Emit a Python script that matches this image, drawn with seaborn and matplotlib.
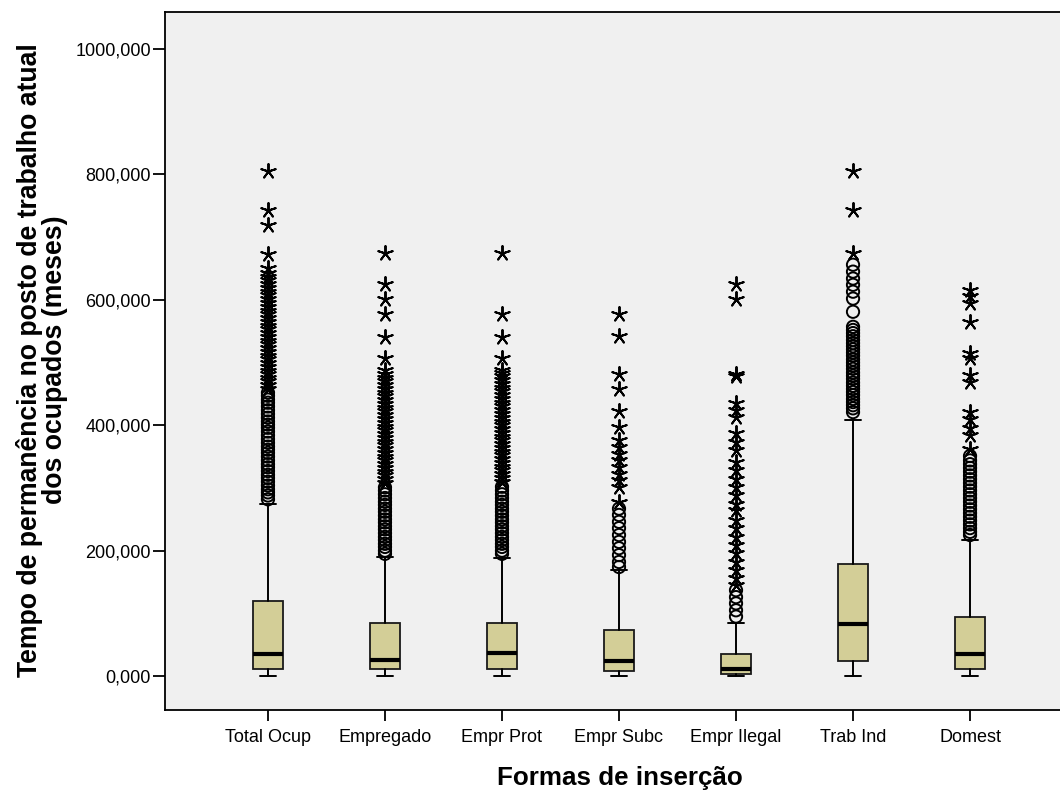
import matplotlib
matplotlib.use("Agg")
import matplotlib.pyplot as plt
import pandas as pd
import seaborn as sns

# ---- data (meses) ----
categories = ["Total Ocup", "Empregado", "Empr Prot", "Empr Subc",
              "Empr Ilegal", "Trab Ind", "Domest"]
q1 = [11, 11, 12, 8.5, 4, 23.5, 10.6]
medians = [36, 25, 37, 24, 12, 83, 35]
q3 = [120, 84, 85, 73, 36, 179, 95]
whisker_low = [0, 0, 0, 0, 0, 0, 0]
whisker_high = [275, 190, 188, 169, 85, 408, 217]

# casos atípicos (círculos) e extremos (estrelas) por forma de inserção
mild_total_ocup = [282, 288, 293, 298, 304, 310, 316, 321, 327, 333, 338, 344,
                   350, 356, 361, 366, 372, 378, 384, 390, 396, 401, 406, 412,
                   418, 424, 430, 436, 441, 447, 452]
extreme_total_ocup = [458, 464, 470, 476, 481, 487, 493, 499, 505, 511, 517,
                      523, 529, 535, 541, 547, 553, 559, 565, 571, 577, 583,
                      589, 595, 601, 607, 613, 619, 625, 631, 637, 643, 650,
                      673, 720, 744, 805]

mild_empregado = [195, 200, 206, 211, 217, 222, 228, 234, 239, 245, 250, 256,
                  262, 267, 273, 278, 284, 290, 296, 301]
extreme_empregado = [308, 314, 320, 326, 332, 338, 344, 350, 356, 362, 368,
                     374, 380, 386, 392, 398, 404, 410, 416, 422, 428, 434,
                     440, 446, 452, 458, 464, 470, 476, 482, 488,
                     507, 541, 578, 602, 626, 674]

mild_empr_prot = [195, 200, 206, 211, 217, 222, 228, 234, 239, 245, 250, 256,
                  262, 267, 273, 278, 284, 290, 296, 302]
extreme_empr_prot = [310, 316, 322, 328, 334, 340, 346, 352, 358, 364, 370,
                     376, 382, 388, 394, 400, 406, 412, 418, 424, 430, 436,
                     442, 448, 454, 460, 466, 472, 478, 484, 488,
                     507, 541, 578, 674]

mild_empr_subc = [174, 182, 193, 204, 214, 225, 236, 246, 257, 267]
extreme_empr_subc = [278, 302, 313, 323, 334, 344, 355, 366, 376,
                     398, 422, 458, 482, 542, 578]

mild_empr_ilegal = [95, 105, 116, 126, 137]
extreme_empr_ilegal = [145, 156, 169, 182, 196, 209, 222, 236, 249,
                       265, 275, 289, 302, 315, 329, 342,
                       360, 374, 387, 413, 424, 435, 478, 482, 601, 626]

mild_trab_ind = [421, 427, 432, 437, 442, 448, 453, 458, 463, 468, 474, 479,
                 484, 490, 495, 500, 505, 511, 516, 521, 526, 531, 536, 542,
                 547, 552, 557, 581, 602, 613, 624, 634, 645, 656]
extreme_trab_ind = [674, 744, 805]

mild_domest = [225, 230, 236, 242, 248, 254, 260, 266, 272, 278, 284, 290,
               296, 302, 308, 314, 320, 326, 332, 338, 344, 351]
extreme_domest = [362, 385, 396, 410, 421, 469, 480, 508, 516, 564, 595,
                  606, 615]

y_ticks = [0, 200, 400, 600, 800, 1000]

mild_lists = [mild_total_ocup, mild_empregado, mild_empr_prot, mild_empr_subc,
              mild_empr_ilegal, mild_trab_ind, mild_domest]
extreme_lists = [extreme_total_ocup, extreme_empregado, extreme_empr_prot,
                 extreme_empr_subc, extreme_empr_ilegal, extreme_trab_ind,
                 extreme_domest]

rows = []
for i, (mild, extreme) in enumerate(zip(mild_lists, extreme_lists)):
    rows += [{"pos": i, "valor": v, "tipo": "atípico"} for v in mild]
    rows += [{"pos": i, "valor": v, "tipo": "extremo"} for v in extreme]
outliers = pd.DataFrame(rows)

# ---- style ----
sns.set_theme(style="white")
plt.rcParams["font.family"] = ["Liberation Sans", "DejaVu Sans"]
plt.rcParams["text.color"] = "black"
plt.rcParams["axes.labelcolor"] = "black"
plt.rcParams["xtick.color"] = "black"
plt.rcParams["ytick.color"] = "black"

fig = plt.figure(figsize=(10.6, 7.93), dpi=100)
ax = fig.add_axes([165 / 1060, 1 - 710 / 793, (1073 - 165) / 1060, (710 - 12) / 793])
ax.set_facecolor("#F0F0F0")

box_color = "#D3CE97"
stats = [
    {"q1": a, "med": m, "q3": b, "whislo": lo, "whishi": hi, "fliers": []}
    for a, m, b, lo, hi in zip(q1, medians, q3, whisker_low, whisker_high)
]
ax.bxp(
    stats,
    positions=range(len(categories)),
    widths=0.26,
    patch_artist=True,
    showfliers=False,
    boxprops=dict(facecolor=box_color, edgecolor="#1a1a1a", linewidth=1.3),
    medianprops=dict(color="black", linewidth=3.0, solid_capstyle="butt"),
    whiskerprops=dict(color="black", linewidth=1.4),
    capprops=dict(color="black", linewidth=1.4),
    zorder=2,
)

mild_df = outliers[outliers["tipo"] == "atípico"]
extreme_df = outliers[outliers["tipo"] == "extremo"]

sns.scatterplot(data=mild_df, x="pos", y="valor", marker="o", s=78,
                color="black", linewidth=1.4, ax=ax, zorder=3, legend=False)
circles = ax.collections[-1]
circles.set_facecolor("none")
circles.set_edgecolor("black")
circles.set_linewidth(1.4)

sns.scatterplot(data=extreme_df, x="pos", y="valor", marker=(5, 2, 0), s=115,
                color="black", linewidth=1.4, ax=ax, zorder=3, legend=False)
stars = ax.collections[-1]
stars.set_edgecolor("black")
stars.set_linewidth(1.4)

# ---- axes ----
ax.set_xlim(-0.88, 6.88)
ax.set_ylim(-54, 1059)
ax.set_xticks(range(len(categories)))
ax.set_xticklabels(categories, fontsize=13, color="black")
ax.set_yticks(y_ticks)
ax.set_yticklabels([f"{v:.3f}".replace(".", ",") for v in y_ticks],
                   fontsize=13, color="black")
ax.tick_params(axis="y", direction="out", length=9, width=1.3, pad=1,
               color="black", left=True)
ax.tick_params(axis="x", direction="out", length=8, width=1.3, pad=6,
               color="black", bottom=True)
ax.set_xlabel("")
ax.set_ylabel("")
for side in ["left", "bottom", "top"]:
    ax.spines[side].set_color("black")
    ax.spines[side].set_linewidth(1.3)
ax.spines["right"].set_visible(False)

fig.text(42 / 1060, 1 - 360 / 793,
         "Tempo de permanência no posto de trabalho atual\ndos ocupados (meses)",
         rotation=90, ha="center", va="center", fontsize=19.2, fontweight="bold",
         linespacing=0.98, color="black")
fig.text(620 / 1060, 1 - 778 / 793, "Formas de inserção",
         ha="center", va="center", fontsize=18.7, fontweight="bold",
         color="black")

fig.savefig("out.png", dpi=100, facecolor="white")
